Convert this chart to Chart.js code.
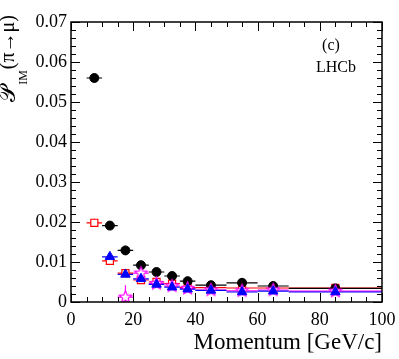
<!DOCTYPE html>
<html><head><meta charset="utf-8">
<script src="https://cdn.jsdelivr.net/npm/chart.js@4/dist/chart.umd.min.js"></script>
<style>html,body{margin:0;padding:0;background:#fff}</style>
</head><body>
<canvas id="c" width="399" height="359"></canvas>
<script>
// ---- data ----
const momentum = [7.5, 12.5, 17.5, 22.5, 27.5, 32.5, 37.5, 45, 55, 65, 85];
const binLow   = [5, 10, 15, 20, 25, 30, 35, 40, 50, 60, 70];
const binHigh  = [10, 15, 20, 25, 30, 35, 40, 50, 60, 70, 100];
const blackVals   = [0.0560, 0.0191, 0.0129, 0.0092, 0.0075, 0.0065, 0.0052, 0.0042, 0.0048, 0.0040, 0.0034];
const blackErr    = [0.0008, 0.0006, 0.0005, 0.0004, 0.0004, 0.0004, 0.0003, 0.0003, 0.0004, 0.0004, 0.0003];
const redVals     = [0.0198, 0.0103, 0.0072, 0.0055, 0.0050, 0.0046, 0.0036, 0.0036, 0.0035, 0.0035, 0.0035];
const redErr      = [0.0010, 0.0006, 0.0005, 0.0004, 0.0004, 0.0003, 0.0003, 0.0003, 0.0003, 0.0003, 0.0003];
const blueVals    = [null, 0.0113, 0.0069, 0.0058, 0.0044, 0.0037, 0.0032, 0.0029, 0.0025, 0.0027, 0.0025];
const blueErr     = [null, 0.0006, 0.0005, 0.0004, 0.0003, 0.0003, 0.0003, 0.0003, 0.0003, 0.0003, 0.0003];
const magentaVals = [null, null, 0.0012, 0.0072, 0.0046, 0.0040, 0.0034, 0.0030, 0.0028, 0.0030, 0.0027];
const magentaErr  = [null, null, 0.0030, 0.0005, 0.0004, 0.0003, 0.0003, 0.0003, 0.0003, 0.0003, 0.0003];
const xTickValues = [0, 20, 40, 60, 80, 100];
const yTickValues = [0, 0.01, 0.02, 0.03, 0.04, 0.05, 0.06, 0.07];

function pts(vals, errs) {
  return momentum.map((m, i) => ({x: m, y: vals[i], e: errs[i], xlo: binLow[i], xhi: binHigh[i]}))
                 .filter(p => p.y !== null);
}

function makeStar(color, r) {
  const s = Math.ceil(2 * r + 4);
  const c = document.createElement('canvas');
  c.width = s; c.height = s;
  const g = c.getContext('2d');
  g.beginPath();
  for (let k = 0; k < 10; k++) {
    const rr = k % 2 === 0 ? r : r * 0.45;
    const a = -Math.PI / 2 + k * Math.PI / 5;
    const px = s / 2 + rr * Math.cos(a), py = s / 2 + rr * Math.sin(a);
    k === 0 ? g.moveTo(px, py) : g.lineTo(px, py);
  }
  g.closePath();
  g.fillStyle = '#fff'; g.fill();
  g.strokeStyle = color; g.lineWidth = 1.2; g.stroke();
  return c;
}

const SERIF = '"Liberation Serif", "DejaVu Serif", serif';

const errorBars = {
  id: 'errorBars',
  beforeDatasetsDraw(chart) {
    const {ctx, chartArea: a, scales: {x, y}} = chart;
    ctx.save();
    ctx.beginPath(); ctx.rect(a.left, a.top, a.right - a.left, a.bottom - a.top); ctx.clip();
    [...chart.data.datasets].reverse().forEach(ds => {
      ctx.strokeStyle = ds.borderColor; ctx.lineWidth = 1.2;
      ds.data.forEach(p => {
        const py = y.getPixelForValue(p.y), px = x.getPixelForValue(p.x);
        ctx.beginPath();
        ctx.moveTo(x.getPixelForValue(p.xlo), py); ctx.lineTo(x.getPixelForValue(p.xhi), py);
        ctx.moveTo(px, y.getPixelForValue(p.y - p.e)); ctx.lineTo(px, y.getPixelForValue(p.y + p.e));
        ctx.stroke();
      });
    });
    ctx.restore();
  }
};

const frame = {
  id: 'frame',
  afterDraw(chart) {
    const {ctx, chartArea: a, scales: {x, y}} = chart;
    ctx.save();
    ctx.strokeStyle = '#000'; ctx.lineWidth = 1.5;
    ctx.strokeRect(a.left, a.top, a.right - a.left, a.bottom - a.top);
    ctx.lineWidth = 1;
    ctx.beginPath();
    for (let v = 0; v <= 100 + 1e-9; v += 5) {
      const px = Math.round(x.getPixelForValue(v)) + 0.5;
      const L = (v % 20 === 0) ? 9 : 5;
      ctx.moveTo(px, a.bottom); ctx.lineTo(px, a.bottom - L);
      ctx.moveTo(px, a.top); ctx.lineTo(px, a.top + L);
    }
    for (let k = 0; k <= 35; k++) {
      const v = k * 0.002;
      const py = Math.round(y.getPixelForValue(v)) + 0.5;
      const L = (k % 5 === 0) ? 9 : 5;
      ctx.moveTo(a.left, py); ctx.lineTo(a.left + L, py);
      ctx.moveTo(a.right, py); ctx.lineTo(a.right - L, py);
    }
    ctx.stroke();

    // y-axis title
    ctx.fillStyle = '#000';
    ctx.translate(14, a.top - 6);
    ctx.rotate(-Math.PI / 2);
    ctx.textBaseline = 'alphabetic';
    const big = '20px ' + SERIF, huge = '23px ' + SERIF, small = '12px ' + SERIF;
    const p1 = '𝒫', p2 = 'IM', p3 = '(π→μ)';
    ctx.font = huge; const w1 = ctx.measureText(p1).width;
    ctx.font = big; const w3 = ctx.measureText(p3).width;
    ctx.font = small; const w2 = ctx.measureText(p2).width;
    let xs = -(w1 + w2 + w3);
    ctx.font = huge; ctx.fillText(p1, xs, 1); xs += w1;
    ctx.font = small; ctx.fillText(p2, xs, 13); xs += w2 + 1;
    ctx.font = big; ctx.fillText(p3, xs, 0);
    ctx.restore();

    // annotations
    ctx.save();
    ctx.fillStyle = '#000'; ctx.textAlign = 'center'; ctx.textBaseline = 'alphabetic';
    ctx.font = '16px ' + SERIF;
    ctx.fillText('(c)', 331, 50);
    ctx.fillText('LHCb', 336, 72);
    ctx.restore();
  }
};

new Chart(document.getElementById('c'), {
  type: 'scatter',
  data: {
    datasets: [
      {label: 'blue', data: pts(blueVals, blueErr), borderColor: '#0000ff', backgroundColor: '#0000ff',
       pointStyle: 'triangle', pointRadius: 5.5, borderWidth: 1},
      {label: 'magenta', data: pts(magentaVals, magentaErr), borderColor: '#ff00ff', backgroundColor: '#fff',
       pointStyle: makeStar('#ff00ff', 6.5), pointRadius: 6},
      {label: 'black', data: pts(blackVals, blackErr), borderColor: '#000000', backgroundColor: '#000000',
       pointStyle: 'circle', pointRadius: 4.5, borderWidth: 1},
      {label: 'red', data: pts(redVals, redErr), borderColor: '#ff0000', backgroundColor: '#ffffff',
       pointStyle: 'rect', pointRadius: 5, borderWidth: 1.2}
    ]
  },
  options: {
    responsive: false, animation: false, devicePixelRatio: 1,
    layout: {padding: {top: 22, right: 17, left: 0, bottom: 0}},
    plugins: {legend: {display: false}, tooltip: {enabled: false}},
    scales: {
      x: {
        type: 'linear', min: 0, max: 100,
        afterBuildTicks: s => { s.ticks = xTickValues.map(v => ({value: v})); },
        afterFit: s => { s.height = 57; s.paddingRight = 0; s.paddingLeft = 0; },
        grid: {display: false, drawTicks: false}, border: {display: false},
        ticks: {color: '#000', font: {family: SERIF, size: 18}, padding: 7, maxRotation: 0,
                callback: v => String(v)},
        title: {display: true, text: 'Momentum [GeV/c]', align: 'end', color: '#000',
                font: {family: SERIF, size: 23}, padding: {top: 0, bottom: 2}}
      },
      y: {
        type: 'linear', min: 0, max: 0.07,
        afterBuildTicks: s => { s.ticks = yTickValues.map(v => ({value: v})); },
        afterFit: s => { s.width = 71; s.paddingTop = 0; s.paddingBottom = 0; },
        grid: {display: false, drawTicks: false}, border: {display: false},
        ticks: {color: '#000', font: {family: SERIF, size: 18}, padding: 4,
                callback: v => v === 0 ? '0' : v.toFixed(2)}
      }
    }
  },
  plugins: [errorBars, frame]
});
</script>
</body></html>
